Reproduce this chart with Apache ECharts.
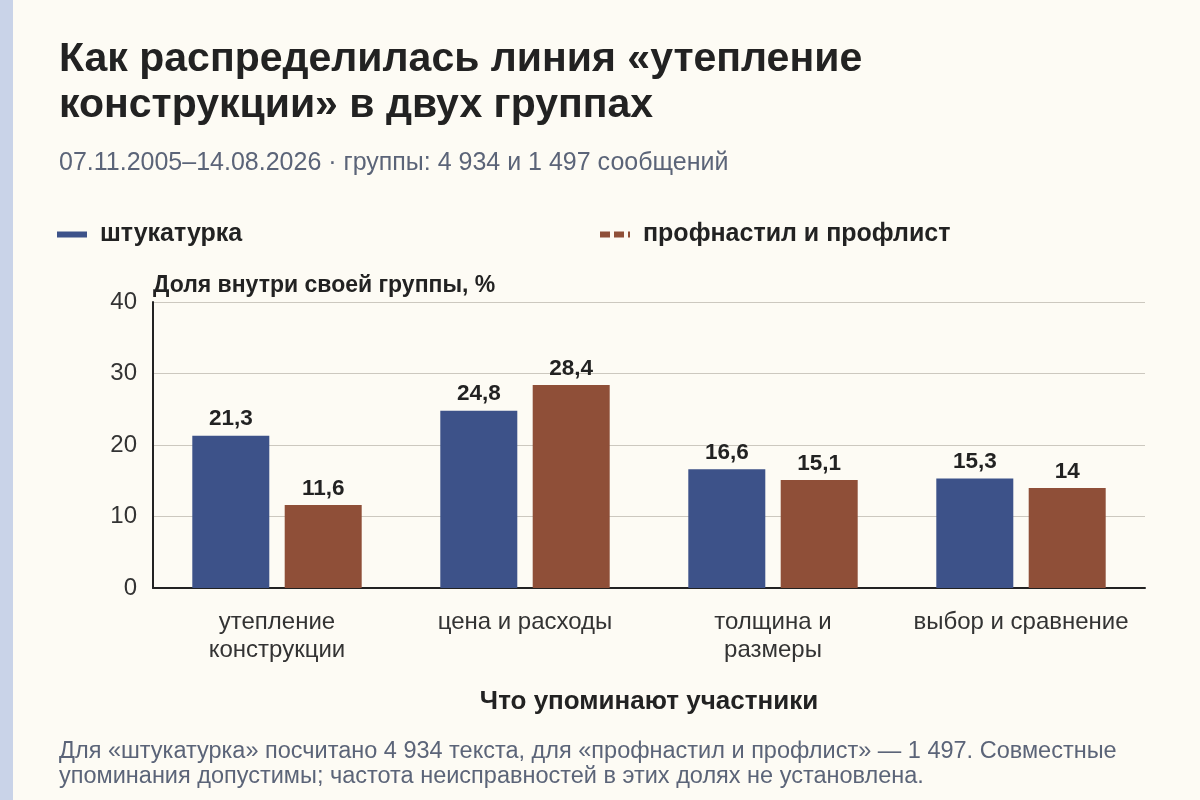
<!DOCTYPE html>
<html lang="ru">
<head>
    <meta charset="UTF-8">
    <title>утепление конструкции</title>
    <script src="https://cdn.jsdelivr.net/npm/echarts@6/dist/echarts.min.js"></script>
    <style>
        html, body { margin: 0; padding: 0; background: #fdfbf4; }
        #stripe { position: absolute; left: 0; top: 0; width: 13px; height: 800px; background: #c9d3e8; }
        #chart { width: 1200px; height: 800px; }
    </style>
</head>
<body>
<div id="stripe"></div>
<div id="chart"></div>
<script>
    // data
    var categories = ['утепление\nконструкции', 'цена и расходы', 'толщина и\nразмеры', 'выбор и сравнение'];
    var shtukaturka = [21.3, 24.8, 16.6, 15.3];
    var profnastil = [11.6, 28.4, 15.1, 14];
    var yTicks = [0, 10, 20, 30, 40];

    var font = 'Liberation Sans';
    function comma(p) { return String(p.value).replace('.', ','); }

    var myChart = echarts.init(document.getElementById('chart'));
    var option = {
        backgroundColor: 'transparent',
        textStyle: { fontFamily: font },
        title: [
            {
                text: 'Как распределилась линия «утепление\nконструкции» в двух группах',
                left: 54, top: 32,
                textStyle: { fontSize: 41, fontWeight: 'bold', color: '#222', lineHeight: 46, fontFamily: font }
            },
            {
                text: '07.11.2005–14.08.2026 · группы: 4 934 и 1 497 сообщений',
                left: 54, top: 146,
                textStyle: { fontSize: 25, fontWeight: 'normal', color: '#5b6478', fontFamily: font }
            },
            {
                text: 'Для «штукатурка» посчитано 4 934 текста, для «профнастил и профлист» — 1 497. Совместные\nупоминания допустимы; частота неисправностей в этих долях не установлена.',
                left: 54, top: 734,
                textStyle: { fontSize: 23.5, fontWeight: 'normal', color: '#5b6478', lineHeight: 25, fontFamily: font }
            }
        ],
        legend: [
            {
                data: [{ name: 'штукатурка', icon: 'path://M0,0H30V6H0Z' }],
                left: 57, top: 222, padding: 0,
                itemWidth: 30, itemHeight: 6,
                textStyle: { fontSize: 25, fontWeight: 'bold', color: '#222', padding: [0, 0, 0, 8], fontFamily: font }
            },
            {
                data: [{ name: 'профнастил и профлист', icon: 'path://M0,0H10V6H0Z M14,0H24V6H14Z M28,0H30V6H28Z' }],
                left: 600, top: 222, padding: 0,
                itemWidth: 30, itemHeight: 6,
                textStyle: { fontSize: 25, fontWeight: 'bold', color: '#222', padding: [0, 0, 0, 8], fontFamily: font }
            }
        ],
        grid: { left: 153, right: 55, top: 302, bottom: 212, containLabel: false },
        xAxis: {
            type: 'category',
            data: categories,
            name: 'Что упоминают участники',
            nameLocation: 'middle',
            nameGap: 101,
            nameTextStyle: { fontSize: 26, fontWeight: 'bold', color: '#222', fontFamily: font },
            axisLine: { lineStyle: { color: '#222', width: 2 } },
            axisTick: { alignWithLabel: true, length: 5, lineStyle: { color: '#222' } },
            axisLabel: { interval: 0, fontSize: 24, color: '#333', lineHeight: 28, margin: 20, fontFamily: font }
        },
        yAxis: {
            type: 'value',
            min: yTicks[0], max: yTicks[yTicks.length - 1], interval: 10,
            name: 'Доля внутри своей группы, %',
            nameLocation: 'end',
            nameGap: 5,
            nameTextStyle: { fontSize: 23, fontWeight: 'bold', color: '#222', align: 'left', fontFamily: font },
            axisLine: { show: true, lineStyle: { color: '#222', width: 2 } },
            axisTick: { show: false },
            axisLabel: { fontSize: 24, color: '#333', margin: 16, fontFamily: font },
            splitLine: { lineStyle: { color: '#ccc8bf', width: 1 } }
        },
        series: [
            {
                name: 'штукатурка',
                type: 'bar',
                data: shtukaturka,
                barWidth: 77,
                barGap: '20%',
                itemStyle: { color: '#3d5289' },
                label: { show: true, position: 'top', distance: 5, fontSize: 22.5, fontWeight: 'bold', color: '#222', formatter: comma, fontFamily: font }
            },
            {
                name: 'профнастил и профлист',
                type: 'bar',
                data: profnastil,
                barWidth: 77,
                itemStyle: { color: '#8f4f38' },
                label: { show: true, position: 'top', distance: 5, fontSize: 22.5, fontWeight: 'bold', color: '#222', formatter: comma, fontFamily: font }
            }
        ]
    };
    option && myChart.setOption(option);
</script>
</body>
</html>
